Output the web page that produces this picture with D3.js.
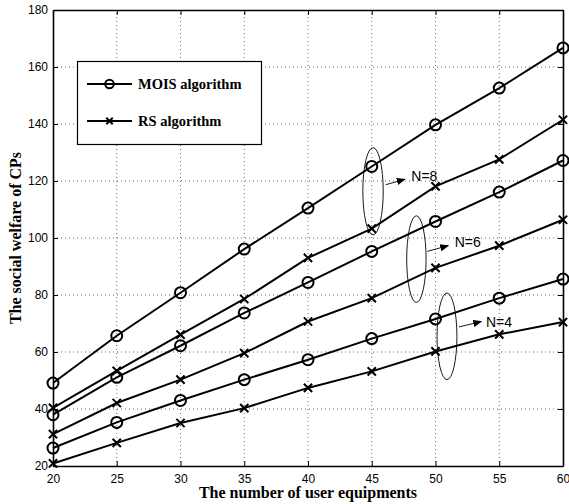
<!DOCTYPE html>
<html>
<head>
<meta charset="utf-8">
<script src="https://cdn.jsdelivr.net/npm/d3@7"></script>
<style>
  html, body { margin: 0; padding: 0; background: #fff; }
  svg { display: block; }
</style>
</head>
<body>
<svg id="chart" width="569" height="504"></svg>
<script>
// Number of user equipments
const users = [20, 25, 30, 35, 40, 45, 50, 55, 60];

// Social welfare of CPs for each algorithm and number of channels N
const moisN8 = [49.1, 65.7, 80.8, 96.1, 110.5, 125.1, 139.7, 152.6, 166.7];
const rsN8   = [40.4, 53.4, 66.1, 78.6, 93.0, 103.3, 118.1, 127.6, 141.5];
const moisN6 = [38.0, 51.1, 62.2, 73.7, 84.4, 95.3, 105.8, 116.1, 127.2];
const rsN6   = [31.2, 42.1, 50.3, 59.6, 70.7, 78.9, 89.5, 97.3, 106.4];
const moisN4 = [26.3, 35.3, 43.0, 50.3, 57.3, 64.7, 71.6, 78.9, 85.6];
const rsN4   = [20.9, 28.1, 35.1, 40.3, 47.4, 53.2, 60.2, 66.2, 70.5];

const xTicks = [20, 25, 30, 35, 40, 45, 50, 55, 60];
const yTicks = [20, 40, 60, 80, 100, 120, 140, 160, 180];

const legendLabels = ["MOIS algorithm", "RS algorithm"];

// Group annotations: ellipse around the N=… pair, arrow and label
const groupLabels = ["N=8", "N=6", "N=4"];
const groupEllipseCenter = [[45.1, 116.4], [48.5, 92.6], [50.9, 65.5]];
const groupEllipseRadius = [[0.8, 15.3], [0.76, 15.2], [0.78, 15.2]];
const groupArrowFrom = [[46.1, 118.7], [49.35, 95.3], [51.84, 68.8]];
const groupArrowTo   = [[47.6, 120.6], [51.0, 97.3], [53.6, 70.7]];
const groupLabelPos  = [[48.1, 119.9], [51.5, 96.8], [53.96, 68.6]];

const series = [
  { values: moisN8, marker: "circle" },
  { values: rsN8,   marker: "cross" },
  { values: moisN6, marker: "circle" },
  { values: rsN6,   marker: "cross" },
  { values: moisN4, marker: "circle" },
  { values: rsN4,   marker: "cross" }
];

const svg = d3.select("#chart");
const margin = { left: 53, right: 6, top: 10, bottom: 38 };
const W = 569, H = 504;
const x = d3.scaleLinear().domain([20, 60]).range([margin.left, W - margin.right]);
const y = d3.scaleLinear().domain([20, 180]).range([H - margin.bottom, margin.top]);

const sansFont = "'Liberation Sans', Arial, Helvetica, sans-serif";
const serifFont = "'Liberation Serif', 'Times New Roman', Times, serif";

// Dotted grid
const grid = svg.append("g");
grid.selectAll("line.gx").data(xTicks.slice(1, -1)).join("line")
  .attr("x1", d => x(d)).attr("x2", d => x(d))
  .attr("y1", y(20)).attr("y2", y(180))
  .attr("stroke", "#444").attr("stroke-width", 0.8).attr("stroke-dasharray", "1,3");
grid.selectAll("line.gy").data(yTicks.slice(1, -1)).join("line")
  .attr("y1", d => y(d)).attr("y2", d => y(d))
  .attr("x1", x(20)).attr("x2", x(60))
  .attr("stroke", "#444").attr("stroke-width", 0.8).attr("stroke-dasharray", "1,3");

// Axes with inward ticks on all four sides
const tickLen = 5;
const axB = svg.append("g").attr("transform", `translate(0,${y(20)})`)
  .call(d3.axisBottom(x).tickValues(xTicks).tickSizeInner(-tickLen).tickSizeOuter(0).tickPadding(8));
const axL = svg.append("g").attr("transform", `translate(${x(20)},0)`)
  .call(d3.axisLeft(y).tickValues(yTicks).tickSizeInner(-tickLen).tickSizeOuter(0).tickPadding(5));
const axT = svg.append("g").attr("transform", `translate(0,${y(180)})`)
  .call(d3.axisTop(x).tickValues(xTicks).tickSizeInner(-tickLen).tickSizeOuter(0).tickFormat(""));
const axR = svg.append("g").attr("transform", `translate(${x(60)},0)`)
  .call(d3.axisRight(y).tickValues(yTicks).tickSizeInner(-tickLen).tickSizeOuter(0).tickFormat(""));
[axB, axL, axT, axR].forEach(a => {
  a.select(".domain").attr("stroke", "#000").attr("stroke-width", 1.6);
  a.selectAll(".tick line").attr("stroke", "#000").attr("stroke-width", 1);
  a.selectAll(".tick text").attr("font-family", sansFont).attr("font-size", 12).attr("fill", "#000");
});

// Lines and markers
const line = d3.line().x((d, i) => x(users[i])).y(d => y(d));
const plot = svg.append("g");

function drawMarker(g, kind, cx, cy, r) {
  if (kind === "circle") {
    g.append("circle").attr("cx", cx).attr("cy", cy).attr("r", r)
      .attr("fill", "none").attr("stroke", "#000").attr("stroke-width", 2);
  } else {
    const s = r * 0.75;
    g.append("path")
      .attr("d", `M${cx - s},${cy - s}L${cx + s},${cy + s}M${cx - s},${cy + s}L${cx + s},${cy - s}`)
      .attr("stroke", "#000").attr("stroke-width", 2).attr("fill", "none");
  }
}

series.forEach(s => {
  plot.append("path").datum(s.values).attr("d", line)
    .attr("fill", "none").attr("stroke", "#000").attr("stroke-width", 2);
  s.values.forEach((v, i) => drawMarker(plot, s.marker, x(users[i]), y(v), 5.5));
});

// Group annotations
const defs = svg.append("defs");
defs.append("marker").attr("id", "arrowHead")
  .attr("viewBox", "0 0 10 10").attr("refX", 9).attr("refY", 5)
  .attr("markerWidth", 9).attr("markerHeight", 9).attr("markerUnits", "userSpaceOnUse")
  .attr("orient", "auto")
  .append("path").attr("d", "M0,1L10,5L0,9Z").attr("fill", "#000");

const ann = svg.append("g");
groupLabels.forEach((lab, i) => {
  const [cx, cy] = groupEllipseCenter[i];
  const [rx, ry] = groupEllipseRadius[i];
  ann.append("ellipse")
    .attr("cx", x(cx)).attr("cy", y(cy))
    .attr("rx", x(cx + rx) - x(cx)).attr("ry", y(cy) - y(cy + ry))
    .attr("fill", "none").attr("stroke", "#000").attr("stroke-width", 0.9);
  ann.append("line")
    .attr("x1", x(groupArrowFrom[i][0])).attr("y1", y(groupArrowFrom[i][1]))
    .attr("x2", x(groupArrowTo[i][0])).attr("y2", y(groupArrowTo[i][1]))
    .attr("stroke", "#000").attr("stroke-width", 0.9).attr("marker-end", "url(#arrowHead)");
  ann.append("text")
    .attr("x", x(groupLabelPos[i][0])).attr("y", y(groupLabelPos[i][1]))
    .attr("font-family", sansFont).attr("font-size", 14).attr("fill", "#000")
    .text(lab);
});

// Legend
const leg = svg.append("g");
leg.append("rect").attr("x", 77.5).attr("y", 61.5).attr("width", 184).attr("height", 83)
  .attr("fill", "#fff").attr("stroke", "#000").attr("stroke-width", 1.2);
const legendMarkers = ["circle", "cross"];
legendLabels.forEach((lab, i) => {
  const ly = 84 + i * 37;
  leg.append("line").attr("x1", 87).attr("x2", 132).attr("y1", ly).attr("y2", ly)
    .attr("stroke", "#000").attr("stroke-width", 2);
  drawMarker(leg, legendMarkers[i], 109.5, ly, 4.3);
  leg.append("text").attr("x", 138).attr("y", ly + 5)
    .attr("font-family", serifFont).attr("font-weight", "bold").attr("font-size", 14.5)
    .attr("fill", "#000").text(lab);
});

// Axis titles
svg.append("text").attr("x", (x(20) + x(60)) / 2).attr("y", 498)
  .attr("text-anchor", "middle").attr("font-family", serifFont).attr("font-weight", "bold")
  .attr("font-size", 16).attr("fill", "#000").text("The number of user equipments");
svg.append("text")
  .attr("transform", `translate(21,${(y(20) + y(180)) / 2}) rotate(-90)`)
  .attr("text-anchor", "middle").attr("font-family", serifFont).attr("font-weight", "bold")
  .attr("font-size", 16).attr("fill", "#000").text("The social welfare of CPs");
</script>
</body>
</html>
